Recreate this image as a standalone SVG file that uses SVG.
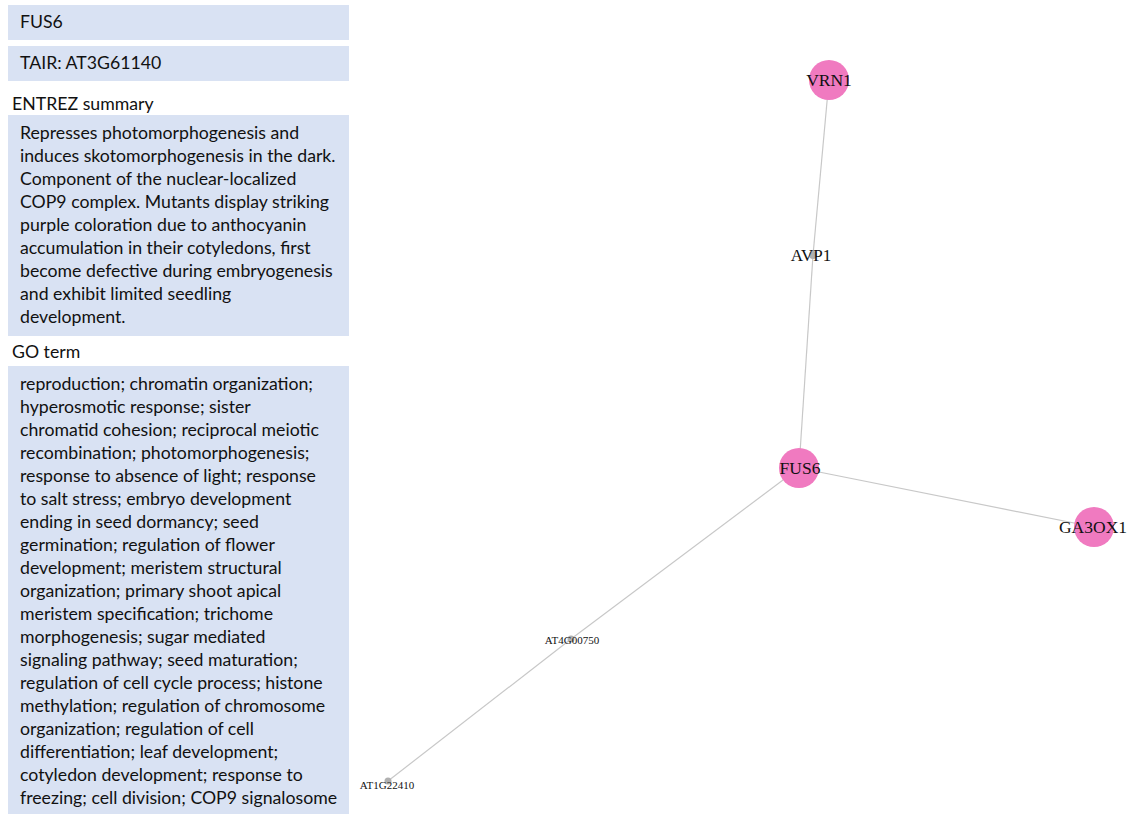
<svg xmlns="http://www.w3.org/2000/svg" width="1128" height="814" viewBox="0 0 1128 814">
  <style>
    .panel { fill: #d9e2f3; }
    .ptext { font-family: Lato, "Open Sans", sans-serif; font-size: 17.7px; fill: #111; }
    .edge { stroke: #c8c8c8; stroke-width: 1.2; fill: none; }
    .big { fill: #f07ac0; }
    .small { fill: #b0b0b0; }
    .lbl { font-family: "Liberation Serif", serif; fill: #111; text-anchor: middle; }
  </style>
  <rect width="1128" height="814" fill="#ffffff"/>

  <!-- info panel -->
  <g id="info">
    <rect class="panel" x="8" y="5" width="341" height="35"/>
    <text class="ptext" x="20" y="28">FUS6</text>
    <rect class="panel" x="8" y="46" width="341" height="35"/>
    <text class="ptext" x="20" y="69">TAIR: AT3G61140</text>
    <text class="ptext" x="12" y="110">ENTREZ summary</text>
    <rect class="panel" x="8" y="115" width="341" height="221"/>
    <text class="ptext" x="20">
      <tspan x="20" y="139">Represses photomorphogenesis and</tspan>
      <tspan x="20" y="162">induces skotomorphogenesis in the dark.</tspan>
      <tspan x="20" y="185">Component of the nuclear-localized</tspan>
      <tspan x="20" y="208">COP9 complex. Mutants display striking</tspan>
      <tspan x="20" y="231">purple coloration due to anthocyanin</tspan>
      <tspan x="20" y="254">accumulation in their cotyledons, first</tspan>
      <tspan x="20" y="277">become defective during embryogenesis</tspan>
      <tspan x="20" y="300">and exhibit limited seedling</tspan>
      <tspan x="20" y="323">development.</tspan>
    </text>
    <text class="ptext" x="12" y="358">GO term</text>
    <rect class="panel" x="8" y="366" width="341" height="448"/>
    <text class="ptext" x="20">
      <tspan x="20" y="390">reproduction; chromatin organization;</tspan>
      <tspan x="20" y="413">hyperosmotic response; sister</tspan>
      <tspan x="20" y="436">chromatid cohesion; reciprocal meiotic</tspan>
      <tspan x="20" y="459">recombination; photomorphogenesis;</tspan>
      <tspan x="20" y="482">response to absence of light; response</tspan>
      <tspan x="20" y="505">to salt stress; embryo development</tspan>
      <tspan x="20" y="528">ending in seed dormancy; seed</tspan>
      <tspan x="20" y="551">germination; regulation of flower</tspan>
      <tspan x="20" y="574">development; meristem structural</tspan>
      <tspan x="20" y="597">organization; primary shoot apical</tspan>
      <tspan x="20" y="620">meristem specification; trichome</tspan>
      <tspan x="20" y="643">morphogenesis; sugar mediated</tspan>
      <tspan x="20" y="666">signaling pathway; seed maturation;</tspan>
      <tspan x="20" y="689">regulation of cell cycle process; histone</tspan>
      <tspan x="20" y="712">methylation; regulation of chromosome</tspan>
      <tspan x="20" y="735">organization; regulation of cell</tspan>
      <tspan x="20" y="758">differentiation; leaf development;</tspan>
      <tspan x="20" y="781">cotyledon development; response to</tspan>
      <tspan x="20" y="804">freezing; cell division; COP9 signalosome</tspan>
    </text>
  </g>

  <!-- connectors -->
  <g id="edges">
    <line class="edge" x1="829" y1="80" x2="813" y2="255"/>
    <line class="edge" x1="813" y1="255" x2="799" y2="468"/>
    <line class="edge" x1="799" y1="468" x2="1094" y2="527"/>
    <line class="edge" x1="799" y1="468" x2="571" y2="639"/>
    <line class="edge" x1="571" y1="639" x2="388" y2="781"/>
  </g>

  <!-- nodes -->
  <g id="node-VRN1">
    <circle class="big" cx="829" cy="80" r="20"/>
    <text class="lbl" x="829" y="86" font-size="17.5">VRN1</text>
  </g>
  <g id="node-AVP1">
    <circle class="small" cx="813" cy="255" r="4"/>
    <text class="lbl" x="811" y="261" font-size="17">AVP1</text>
  </g>
  <g id="node-FUS6">
    <circle class="big" cx="799" cy="468" r="20"/>
    <text class="lbl" x="800" y="474" font-size="17.5">FUS6</text>
  </g>
  <g id="node-GA3OX1">
    <circle class="big" cx="1094" cy="527" r="20"/>
    <text class="lbl" x="1093" y="533" font-size="17.5">GA3OX1</text>
  </g>
  <g id="node-AT4G00750">
    <circle class="small" cx="571" cy="639" r="3.5"/>
    <text class="lbl" x="572" y="644" font-size="11">AT4G00750</text>
  </g>
  <g id="node-AT1G22410">
    <circle class="small" cx="388" cy="781" r="3.5"/>
    <text class="lbl" x="387" y="789" font-size="11">AT1G22410</text>
  </g>
</svg>
